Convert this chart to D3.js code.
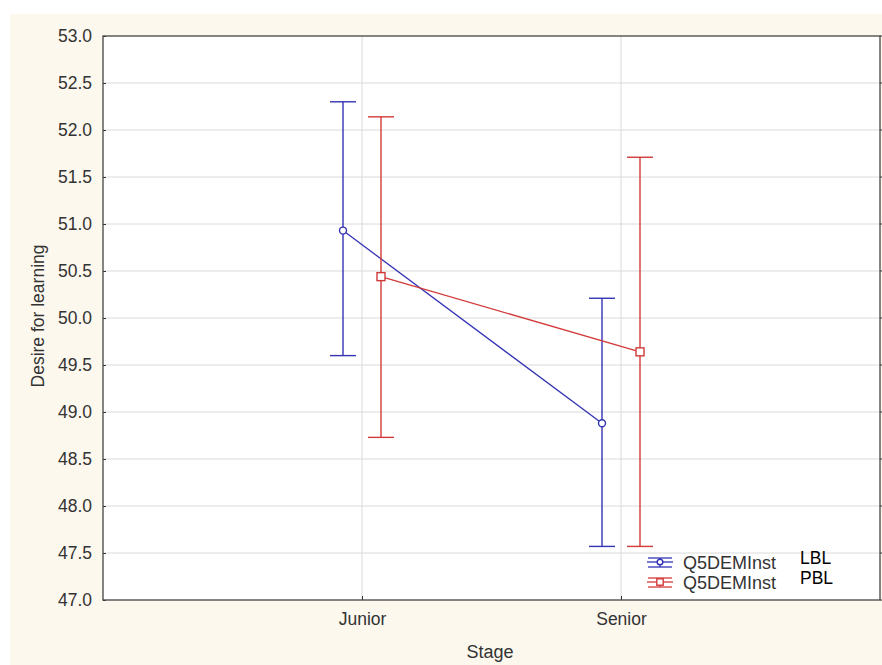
<!DOCTYPE html>
<meta charset="utf-8">
<style>
body { margin: 0; background: #fff; font-family: "Liberation Sans", Arial, sans-serif; }
svg text { font-family: "Liberation Sans", Arial, sans-serif; }
</style>
<body>
<div id="chart"></div>
<script src="https://d3js.org/d3.v7.min.js"></script>
<script>
// data
var stages = ['Junior', 'Senior'];
var groups = ['LBL', 'PBL'];
var seriesName = 'Q5DEMInst';
var lblMean = [50.93, 48.88];
var lblLow = [49.60, 47.57];
var lblHigh = [52.30, 50.21];
var pblMean = [50.44, 49.64];
var pblLow = [48.73, 47.57];
var pblHigh = [52.14, 51.71];
var yTicks = [47.0, 47.5, 48.0, 48.5, 49.0, 49.5, 50.0, 50.5, 51.0, 51.5, 52.0, 52.5, 53.0];

var series = [
  {name: groups[0], color: '#3434b4', mean: lblMean, low: lblLow, high: lblHigh, shape: 'circle', off: -19},
  {name: groups[1], color: '#d23a3a', mean: pblMean, low: pblLow, high: pblHigh, shape: 'square', off: 19}
];

drawChart();

function drawChart(){
  var W = 882, H = 665;
  var plot = {left: 103, top: 36, right: 880, bottom: 600};

  var svg = d3.select('#chart').append('svg')
    .attr('width', W).attr('height', H);

  // cream panel
  svg.append('rect')
    .attr('x', 10).attr('y', 14).attr('width', W - 10).attr('height', H - 14)
    .style('fill', '#fcf8ee');

  svg.append('rect')
    .attr('x', plot.left).attr('y', plot.top)
    .attr('width', plot.right - plot.left).attr('height', plot.bottom - plot.top)
    .style('fill', '#fff');

  var y = d3.scaleLinear().domain([47, 53]).range([plot.bottom, plot.top]);
  var x = d3.scalePoint().domain(stages).range([plot.left, plot.right]).padding(1);

  // grid
  svg.append('g').selectAll('line').data(yTicks.slice(1, -1)).enter().append('line')
    .attr('x1', plot.left).attr('x2', plot.right)
    .attr('y1', function(d){ return y(d); }).attr('y2', function(d){ return y(d); })
    .style('stroke', '#dadada').style('stroke-width', 1);
  svg.append('g').selectAll('line').data(stages).enter().append('line')
    .attr('y1', plot.top).attr('y2', plot.bottom)
    .attr('x1', function(d){ return x(d); }).attr('x2', function(d){ return x(d); })
    .style('stroke', '#dadada').style('stroke-width', 1);

  // axes
  var yAxis = d3.axisLeft(y).tickValues(yTicks).tickFormat(d3.format('.1f')).tickSize(-3).tickPadding(11);
  var gy = svg.append('g').attr('transform', 'translate(' + plot.left + ',0)').call(yAxis);
  var xAxis = d3.axisBottom(x).tickSize(-4).tickPadding(13);
  var gx = svg.append('g').attr('transform', 'translate(0,' + plot.bottom + ')').call(xAxis);
  [gy, gx].forEach(function(g){
    g.select('.domain').remove();
    g.selectAll('line').style('stroke', '#333');
    g.selectAll('text').style('font-size', '17.5px').style('fill', '#333')
      .style('font-family', '"Liberation Sans", Arial, sans-serif');
  });
  gx.selectAll('text').attr('dy', '0.71em');

  // right side ticks
  svg.append('g').selectAll('line').data(yTicks).enter().append('line')
    .attr('x1', plot.right).attr('x2', plot.right + 3)
    .attr('y1', function(d){ return y(d); }).attr('y2', function(d){ return y(d); })
    .style('stroke', '#333');

  svg.append('rect')
    .attr('x', plot.left).attr('y', plot.top)
    .attr('width', plot.right - plot.left).attr('height', plot.bottom - plot.top)
    .style('fill', 'none').style('stroke', '#444').style('stroke-width', 1.3);

  // titles
  svg.append('text').attr('x', 490).attr('y', 658).attr('text-anchor', 'middle')
    .style('font-size', '18px').style('fill', '#333').text('Stage');
  svg.append('text').attr('transform', 'translate(44,' + 316 + ') rotate(-90)')
    .attr('text-anchor', 'middle')
    .style('font-size', '17.5px').style('fill', '#333').text('Desire for learning');

  var capW = 13;
  series.forEach(function(s){
    var g = svg.append('g');
    var pts = stages.map(function(st, i){ return {x: x(st) + s.off, i: i}; });

    // error bars
    pts.forEach(function(p){
      var i = p.i;
      g.append('line').attr('x1', p.x).attr('x2', p.x)
        .attr('y1', y(s.low[i])).attr('y2', y(s.high[i]))
        .style('stroke', s.color).style('stroke-width', 1.4);
      [s.low[i], s.high[i]].forEach(function(v){
        g.append('line').attr('x1', p.x - capW).attr('x2', p.x + capW)
          .attr('y1', y(v)).attr('y2', y(v))
          .style('stroke', s.color).style('stroke-width', 1.4);
      });
    });

    g.append('path')
      .datum(pts)
      .attr('d', d3.line().x(function(p){ return p.x; }).y(function(p){ return y(s.mean[p.i]); }))
      .style('fill', 'none').style('stroke', s.color).style('stroke-width', 1.3);

    pts.forEach(function(p){
      drawMarker(g, s, p.x, y(s.mean[p.i]));
    });
  });

  // legend
  var leg = svg.append('g');
  series.forEach(function(s, k){
    var cy = 562 + k * 20, cx = 660;
    leg.append('line').attr('x1', cx - 13).attr('x2', cx + 13).attr('y1', cy).attr('y2', cy)
      .style('stroke', s.color).style('stroke-width', 1.3);
    leg.append('line').attr('x1', cx - 12).attr('x2', cx + 12).attr('y1', cy - 4).attr('y2', cy - 4)
      .style('stroke', s.color).style('stroke-width', 1.3);
    leg.append('line').attr('x1', cx - 12).attr('x2', cx + 12).attr('y1', cy + 5).attr('y2', cy + 5)
      .style('stroke', s.color).style('stroke-width', 1.3);
    leg.append('line').attr('x1', cx).attr('x2', cx).attr('y1', cy - 4).attr('y2', cy + 5)
      .style('stroke', s.color).style('stroke-width', 1.3);
    drawMarker(leg, s, cx, cy, 0.8);
    leg.append('text').attr('x', 683).attr('y', cy + 7)
      .style('font-size', '18px').style('fill', '#333').text(seriesName);
    leg.append('text').attr('x', 800).attr('y', cy + 2)
      .style('font-size', '17.5px').style('fill', '#000').text(s.name);
  });
}

function drawMarker(g, s, cx, cy, k){
  if(k === undefined){ k = 1; }
  if(s.shape === 'circle'){
    g.append('circle').attr('cx', cx).attr('cy', cy).attr('r', 3.5 * k)
      .style('fill', '#fff').style('stroke', s.color).style('stroke-width', 1.4);
  } else {
    g.append('rect').attr('x', cx - 4 * k).attr('y', cy - 4 * k).attr('width', 8 * k).attr('height', 8 * k)
      .style('fill', '#fff').style('stroke', s.color).style('stroke-width', 1.4);
  }
}
</script>
